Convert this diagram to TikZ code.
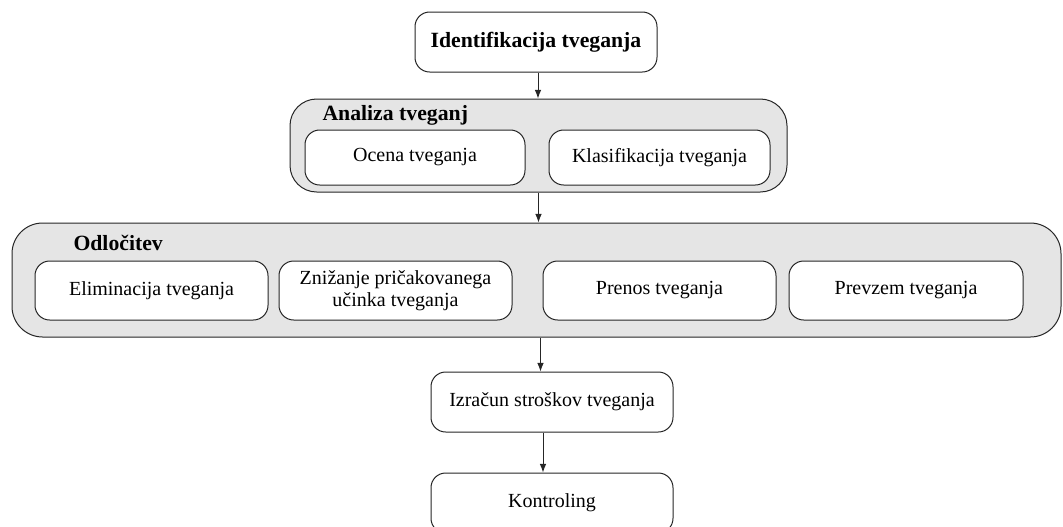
\documentclass[tikz,border=0pt]{standalone}
\usepackage{fontspec}
\setmainfont{Liberation Serif}
\usetikzlibrary{arrows.meta}
\begin{document}
\begin{tikzpicture}[x=0.75pt,y=-0.75pt,
  line width=0.75pt,
  txt/.style={font=\fontsize{15}{16.5}\selectfont},
  head/.style={font=\fontsize{16.3}{18}\selectfont\bfseries, anchor=west, inner sep=0pt},
  box/.style={draw=black!85, fill=white, rounded corners=11pt, align=center,
    inner sep=0pt, txt},
  group/.style={draw=black!85, fill=black!10, rounded corners=20pt, inner sep=0pt},
  arr/.style={draw=black!85, -{Latex[length=6.5pt,width=5pt]}}]
\useasboundingbox (0,0) rectangle (1063,526);
\clip (0,0) rectangle (1063,526);

% top step
\node[box, font=\fontsize{16.3}{18}\selectfont\bfseries,
  minimum width=181.5pt, minimum height=45pt] (ident) at (536,42) {Identifikacija tveganja};

% analysis group
\node[group, minimum width=372.75pt, minimum height=69.75pt] (analiza) at (538.5,145.5) {};
\node[head] (analizaT) at (322,115) {Analiza tveganj};
\node[box, minimum width=165pt, minimum height=41.25pt] (ocena) at (415,157.5) {Ocena tveganja};
\node[box, minimum width=165.75pt, minimum height=41.25pt] (klas) at (659.5,157.5) {Klasifikacija tveganja};

% decision group
\node[group, rounded corners=23pt, minimum width=786.75pt, minimum height=85.5pt] (odl) at (536.5,280) {};
\node[head] (odlT) at (73,243) {Odločitev};
\node[box, minimum width=174.75pt, minimum height=44.25pt] (elim) at (151.5,290.5) {Eliminacija tveganja};
\node[box, minimum width=174.75pt, minimum height=44.25pt] (zniz) at (395.5,290.5) {Znižanje pričakovanega\\učinka tveganja};
\node[box, minimum width=174.75pt, minimum height=44.25pt] (prenos) at (659.5,290.5) {Prenos tveganja};
\node[box, minimum width=175.5pt, minimum height=44.25pt] (prevzem) at (906,290.5) {Prevzem tveganja};

% lower steps
\node[box, minimum width=181.5pt, minimum height=45pt] (izr) at (552,402) {Izračun stroškov tveganja};
\node[box, minimum width=181.5pt, minimum height=45pt] (kontr) at (552,503) {Kontroling};

% connectors
\draw[arr] ([xshift=1.5pt]ident.south) -- ([xshift=1.5pt]ident.south |- analiza.north);
\draw[arr] (analiza.south) -- (analiza.south |- odl.north);
\draw[arr] ([xshift=3pt]odl.south) -- ([xshift=3pt]odl.south |- izr.north);
\draw[arr] ([xshift=-6.75pt]izr.south) -- ([xshift=-6.75pt]izr.south |- kontr.north);
\end{tikzpicture}
\end{document}
